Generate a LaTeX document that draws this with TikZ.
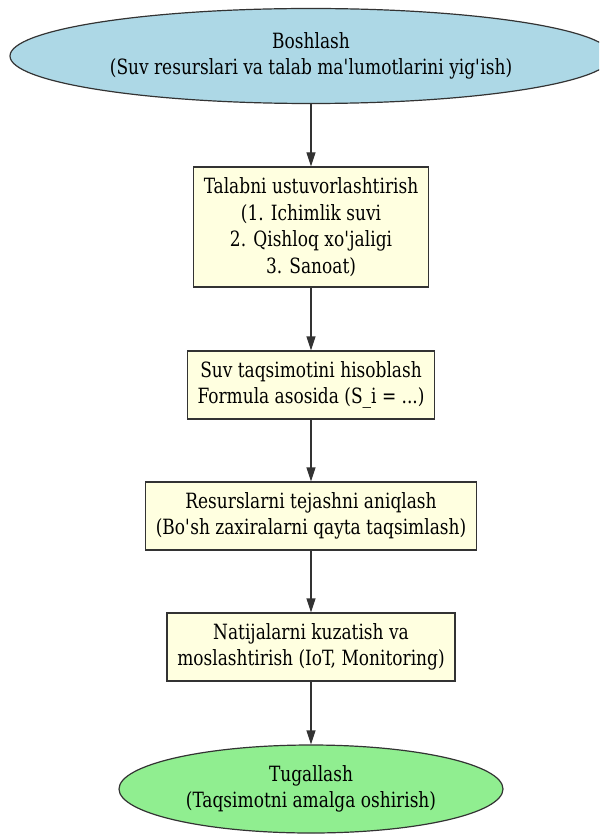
\documentclass[tikz,border=0pt]{standalone}
\usepackage{fontspec}
\setmainfont{DejaVu Serif Condensed}[FakeStretch=0.9]
\usetikzlibrary{shapes.geometric, arrows.meta, positioning}
\definecolor{startblue}{RGB}{173,216,230}
\definecolor{boxyellow}{RGB}{255,255,224}
\definecolor{endgreen}{RGB}{144,238,144}
\newcommand{\sq}{\textquotesingle}

\begin{document}
\begin{tikzpicture}[x=1pt, y=-1pt, >={Triangle[length=14pt,width=9pt]},
  font=\fontsize{21}{26.5}\selectfont,
  stepbox/.style={draw=black!80, line width=1.2pt, fill=boxyellow, align=center, inner sep=0pt},
  endpoint/.style={draw=black!80, line width=1.2pt, ellipse, align=center, inner sep=0pt}]
  \clip (0,0) rectangle (599,834);
  % start and end
  \node[endpoint, fill=startblue, minimum width=602pt, minimum height=95pt] (start) at (311,56)
    {Boshlash\\(Suv resurslari va talab ma\sq lumotlarini yig\sq ish)};
  \node[endpoint, fill=endgreen, minimum width=384pt, minimum height=88pt] (finish) at (311,789)
    {Tugallash\\(Taqsimotni amalga oshirish)};
  % steps
  \node[stepbox, minimum width=235pt, minimum height=120pt] (prio) at (311,227)
    {Talabni ustuvorlashtirish\\(1. Ichimlik suvi\\2. Qishloq xo\sq jaligi\\3. Sanoat)};
  \node[stepbox, minimum width=247pt, minimum height=68pt] (calc) at (311,385)
    {Suv taqsimotini hisoblash\\Formula asosida (S\_i = ...)};
  \node[stepbox, minimum width=331pt, minimum height=68pt] (save) at (311,516)
    {Resurslarni tejashni aniqlash\\(Bo\sq sh zaxiralarni qayta taqsimlash)};
  \node[stepbox, minimum width=288pt, minimum height=68pt] (monitor) at (311,647)
    {Natijalarni kuzatish va\\moslashtirish (IoT, Monitoring)};
  % arrows
  \draw[->, line width=1.2pt, black!80] (start) -- (prio);
  \draw[->, line width=1.2pt, black!80] (prio) -- (calc);
  \draw[->, line width=1.2pt, black!80] (calc) -- (save);
  \draw[->, line width=1.2pt, black!80] (save) -- (monitor);
  \draw[->, line width=1.2pt, black!80] (monitor) -- (finish);
\end{tikzpicture}
\end{document}
